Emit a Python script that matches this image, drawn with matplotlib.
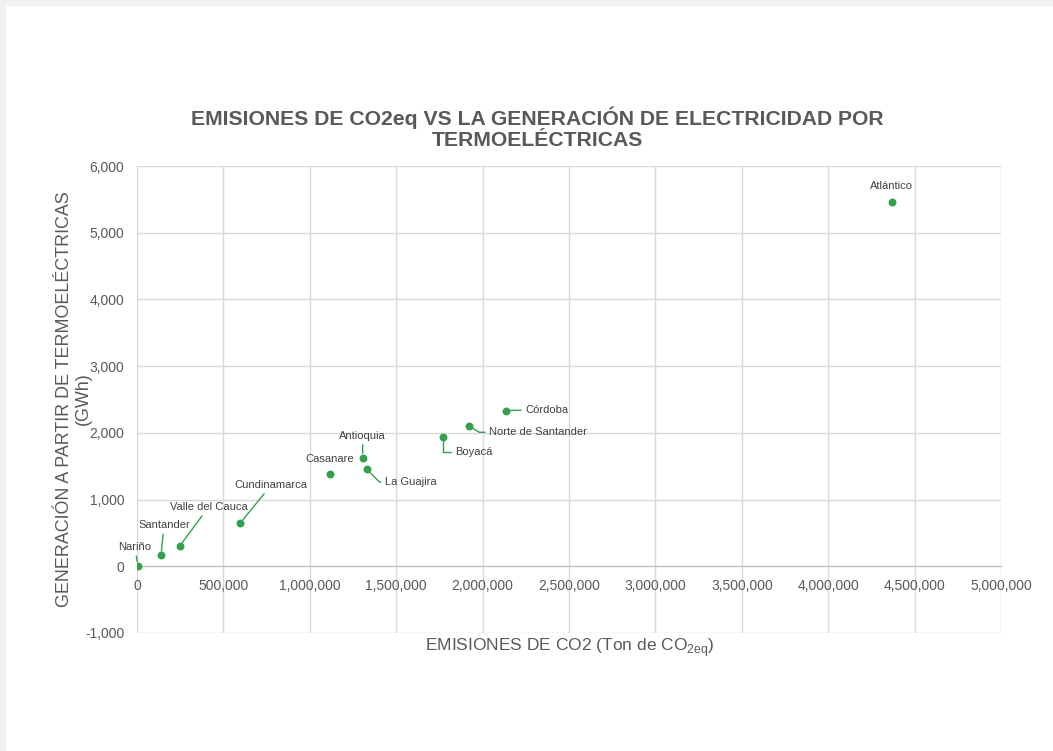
import numpy as np
import matplotlib
matplotlib.use('Agg')
import matplotlib.pyplot as plt
from matplotlib.ticker import MultipleLocator, FuncFormatter
from matplotlib.patches import Rectangle

plt.rcParams['font.family'] = ['Liberation Sans', 'DejaVu Sans']

# data
departamentos = ['Nariño', 'Santander', 'Valle del Cauca', 'Cundinamarca',
                 'Casanare', 'Antioquia', 'La Guajira', 'Boyacá',
                 'Norte de Santander', 'Córdoba', 'Atlántico']
emisiones_co2 = [5000, 139000, 247000, 598000, 1115000, 1306000, 1329000,
                 1769000, 1921000, 2134000, 4369000]
generacion_gwh = [5, 170, 304, 650, 1390, 1630, 1455, 1934, 2099, 2334, 5457]

# label offsets in pixels (dx, dy) and leader style
label_off = [(-3, 19), (3, 30), (29, 39), (31, 38), (0, 15), (0, 22),
             (44, -13), (31, -15), (69, -6), (41, 1), (0, 16)]
leader = ['line', 'line', 'line', 'line', None, 'line',
          'angle,angleA=0,angleB=-45,rad=0', 'angle,angleA=0,angleB=90,rad=0',
          'angle,angleA=0,angleB=-30,rad=0', 'line', None]

verde = '#33a04e'
gris_txt = '#595959'

fig = plt.figure(figsize=(10.53, 7.51), dpi=100, facecolor='#f1f2f4')
fig.patches.append(Rectangle((6/1053, 0), 1, 1 - 6/751, transform=fig.transFigure,
                             facecolor='white', edgecolor='none', zorder=-5))

ax = fig.add_axes([137/1053, 1 - 633/751, (1001 - 137)/1053, (633 - 166)/751])
ax.set_facecolor('white')

ax.scatter(emisiones_co2, generacion_gwh, s=22, color=verde, zorder=3)

for nombre, x, y, (dx, dy), ld in zip(departamentos, emisiones_co2, generacion_gwh,
                                      label_off, leader):
    props = None
    if ld == 'line':
        props = dict(arrowstyle='-', color=verde, lw=1, shrinkA=1, shrinkB=3)
    elif ld is not None:
        props = dict(arrowstyle='-', color=verde, lw=1, shrinkA=1, shrinkB=3,
                     connectionstyle=ld)
    ax.annotate(nombre, (x, y), xytext=(dx, dy), textcoords='offset pixels',
                ha='center', va='center', fontsize=8, color='#404040',
                arrowprops=props, zorder=4)

ax.set_xlim(0, 5000000)
ax.set_ylim(-1000, 6000)
ax.xaxis.set_major_locator(MultipleLocator(500000))
ax.yaxis.set_major_locator(MultipleLocator(1000))
fmt = FuncFormatter(lambda v, p: '{:,.0f}'.format(v))
ax.xaxis.set_major_formatter(fmt)
ax.yaxis.set_major_formatter(fmt)

ax.grid(True, color='#d9d9d9', lw=1)
ax.set_axisbelow(True)
for s in ['top', 'right', 'left']:
    ax.spines[s].set_visible(False)
ax.spines['bottom'].set_position(('data', 0))
ax.spines['bottom'].set_color('#bfbfbf')
ax.spines['bottom'].set_zorder(2)
ax.tick_params(length=0, labelsize=10, colors=gris_txt)
ax.tick_params(axis='y', pad=9)
ax.tick_params(axis='x', pad=9)

fig.text(537/1053, 1 - 128/751,
         'EMISIONES DE CO2eq VS LA GENERACIÓN DE ELECTRICIDAD POR\nTERMOELÉCTRICAS',
         ha='center', va='center', fontsize=15.2, fontweight='bold', color=gris_txt,
         linespacing=1.12)
fig.text(74/1053, 1 - 399/751, 'GENERACIÓN A PARTIR DE TERMOELÉCTRICAS\n(GWh)',
         rotation=90, ha='center', va='center', fontsize=12.9, color=gris_txt,
         linespacing=1.1)
fig.text(570/1053, 1 - 648/751, r'EMISIONES DE CO2 (Ton de CO$_{\mathregular{2eq}}$)',
         ha='center', va='center', fontsize=12.5, color=gris_txt)

fig.savefig('out.png', dpi=100, facecolor=fig.get_facecolor())
